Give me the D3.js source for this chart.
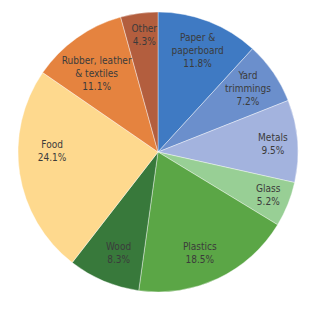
<!DOCTYPE html>
<meta charset="utf-8">
<style>
body { margin: 0; background: #fff; }
.label { font-family: "DejaVu Sans Condensed", "Liberation Sans Narrow", sans-serif; font-size: 10px; fill: #3b3b3b; }
</style>
<body>
<script src="https://cdn.jsdelivr.net/npm/d3@7"></script>
<script>

// categories clockwise from 12 o'clock
var categories = ["Paper & paperboard", "Yard trimmings", "Metals", "Glass", "Plastics",
                  "Wood", "Food", "Rubber, leather & textiles", "Other"];
var values = [11.8, 7.2, 9.5, 5.2, 18.5, 8.3, 24.1, 11.1, 4.3];
// how each label is broken into lines
var labelLines = [["Paper &", "paperboard"], ["Yard", "trimmings"], ["Metals"], ["Glass"], ["Plastics"],
                  ["Wood"], ["Food"], ["Rubber, leather", "& textiles"], ["Other"]];
var colors = ["#3f7ac3", "#6b8fcc", "#a3b3de", "#98cf95", "#5ba646",
              "#38793b", "#fed98e", "#e5833f", "#b35e3e"];

var width = 320, height = 312,
    cx = 158, cy = 152, radius = 140;

// small hand nudges so labels sit where the original put them
var nudge = {
  "Yard trimmings": [0, -2],
  "Metals": [6, 1],
  "Glass": [9, 2],
  "Plastics": [-5, 2],
  "Wood": [3, 0],
  "Food": [2, -18],
  "Rubber, leather & textiles": [2, 10],
  "Other": [1, -9]
};

var svg = d3.select("body").append("svg")
    .attr("width", width)
    .attr("height", height)
  .append("g")
    .attr("transform", "translate(" + cx + "," + cy + ")");

var color = d3.scaleOrdinal().domain(categories).range(colors);

var pie = d3.pie()
    .sort(null)
    .value(function(d, i) { return values[i]; });

var arc = d3.arc().innerRadius(0).outerRadius(radius);
var labelArc = d3.arc().innerRadius(radius * 0.78).outerRadius(radius * 0.78);

var arcs = pie(categories);

svg.selectAll("path.slice")
    .data(arcs)
  .enter().append("path")
    .attr("class", "slice")
    .attr("d", arc)
    .attr("fill", function(d) { return color(d.data); })
    .attr("stroke", "#fff")
    .attr("stroke-width", 0.4);

var labels = svg.selectAll("text.label")
    .data(arcs)
  .enter().append("text")
    .attr("class", "label")
    .attr("text-anchor", "middle")
    .attr("transform", function(d) {
      var c = labelArc.centroid(d), n = nudge[d.data] || [0, 0];
      return "translate(" + (c[0] + n[0]) + "," + (c[1] + n[1]) + ")";
    });

labels.each(function(d) {
  var lines = labelLines[d.index].concat([d3.format(".1f")(values[d.index]) + "%"]);
  var t = d3.select(this);
  var lh = 13;
  var y0 = -(lines.length - 1) * lh / 2;
  lines.forEach(function(s, j) {
    t.append("tspan")
      .attr("x", 0)
      .attr("y", y0 + j * lh)
      .attr("dy", "0.35em")
      .text(s);
  });
});

</script>
</body>
